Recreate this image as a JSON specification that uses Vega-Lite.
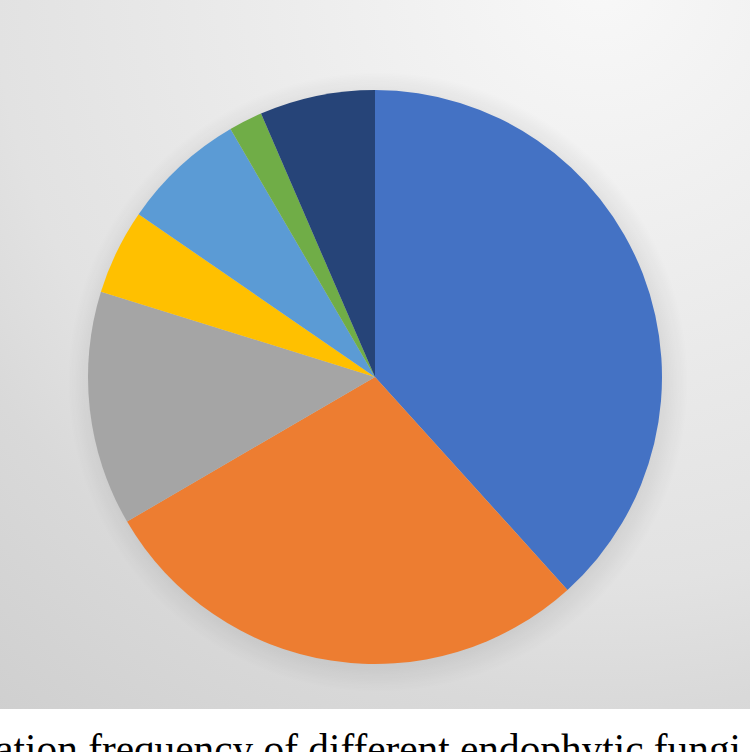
{
  "$schema": "https://vega.github.io/schema/vega-lite/v6.json",
  "width": 750,
  "height": 709,
  "padding": {"top": 0, "left": 0, "right": 0, "bottom": 43},
  "autosize": {"type": "none"},
  "background": "white",
  "config": {"view": {"stroke": null}},
  "title": {
    "text": "ation frequency of different endophytic fungi",
    "orient": "bottom",
    "anchor": "end",
    "frame": "group",
    "baseline": "alphabetic",
    "offset": 54,
    "dx": -9,
    "font": "Liberation Serif",
    "fontSize": 41.3,
    "fontWeight": "normal",
    "color": "black"
  },
  "layer": [
    {
      "data": {"values": [{"bg": 1}]},
      "mark": {
        "type": "rect",
        "fill": {"gradient": "radial", "x1": 0.8, "y1": 0.0, "r1": 0, "x2": 0.8, "y2": 0.0, "r2": 1.3,
          "stops": [
            {"offset": 0, "color": "#f8f8f8"},
            {"offset": 0.42, "color": "#e9e9e9"},
            {"offset": 0.62, "color": "#e2e2e2"},
            {"offset": 0.75, "color": "#d9d9d9"},
            {"offset": 1, "color": "#cecece"}
          ]}
      },
      "encoding": {}
    },
    {
      "data": {"values": [{"bg": 1}]},
      "mark": {
        "type": "arc", "x": 378, "y": 382, "outerRadius": 310, "theta": 0, "theta2": 6.2832,
        "fill": {"gradient": "radial", "x1": 0.5, "y1": 0.5, "r1": 0, "x2": 0.5, "y2": 0.5, "r2": 0.5,
          "stops": [
            {"offset": 0, "color": "rgba(0,0,0,0.12)"},
            {"offset": 0.88, "color": "rgba(0,0,0,0.10)"},
            {"offset": 1, "color": "rgba(0,0,0,0)"}
          ]}
      },
      "encoding": {}
    },
    {
      "data": {
        "values": [
          {"k": 1, "fungus": "Fungus 1", "freq": 38.3},
          {"k": 2, "fungus": "Fungus 2", "freq": 28.3},
          {"k": 3, "fungus": "Fungus 3", "freq": 13.2},
          {"k": 4, "fungus": "Fungus 4", "freq": 4.8},
          {"k": 5, "fungus": "Fungus 5", "freq": 7.0},
          {"k": 6, "fungus": "Fungus 6", "freq": 1.9},
          {"k": 7, "fungus": "Fungus 7", "freq": 6.5}
        ]
      },
      "mark": {"type": "arc", "outerRadius": 287, "x": 375, "y": 377},
      "encoding": {
        "theta": {"field": "freq", "type": "quantitative", "stack": true},
        "order": {"field": "k", "type": "quantitative"},
        "color": {
          "field": "fungus",
          "type": "nominal",
          "legend": null,
          "scale": {
            "domain": ["Fungus 1", "Fungus 2", "Fungus 3", "Fungus 4", "Fungus 5", "Fungus 6", "Fungus 7"],
            "range": ["#4472C4", "#ED7D31", "#A5A5A5", "#FFC000", "#5B9BD5", "#70AD47", "#264478"]
          }
        }
      }
    }
  ]
}
